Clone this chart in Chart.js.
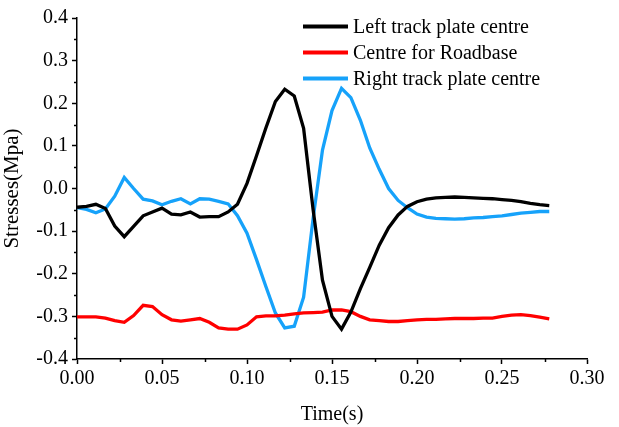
<!DOCTYPE html>
<html>
<head>
<meta charset="utf-8">
<script src="https://cdn.jsdelivr.net/npm/chart.js@4.4.0/dist/chart.umd.min.js"></script>
<style>
html,body{margin:0;padding:0;background:#fff;}
#wrap{width:619px;height:427px;position:relative;}
</style>
</head>
<body>
<div id="wrap"><canvas id="c" width="619" height="427"></canvas></div>
<script>
const times = [0, 0.0056, 0.0111, 0.0167, 0.0222, 0.0278, 0.0333, 0.0389, 0.0444, 0.05,
  0.0556, 0.0611, 0.0667, 0.0722, 0.0778, 0.0833, 0.0889, 0.0944, 0.1, 0.1056,
  0.1111, 0.1167, 0.1222, 0.1278, 0.1333, 0.1389, 0.1444, 0.15, 0.1556, 0.1611,
  0.1667, 0.1722, 0.1778, 0.1833, 0.1889, 0.1944, 0.2, 0.2056, 0.2111, 0.2167,
  0.2222, 0.2278, 0.2333, 0.2389, 0.2444, 0.25, 0.2556, 0.2611, 0.2667, 0.2722, 0.2778];

const leftTrack = [-0.044, -0.042, -0.037, -0.047, -0.088, -0.113, -0.089, -0.064, -0.055, -0.046,
  -0.060, -0.062, -0.055, -0.067, -0.066, -0.066, -0.055, -0.037, 0.012, 0.077,
  0.142, 0.204, 0.233, 0.217, 0.141, -0.050, -0.215, -0.300, -0.330, -0.290,
  -0.235, -0.185, -0.133, -0.092, -0.062, -0.042, -0.031, -0.025, -0.022, -0.021,
  -0.020, -0.021, -0.022, -0.023, -0.024, -0.026, -0.028, -0.031, -0.035, -0.038, -0.040];

const roadbase = [-0.301, -0.301, -0.301, -0.304, -0.310, -0.314, -0.298, -0.274, -0.277, -0.296,
  -0.308, -0.311, -0.308, -0.305, -0.314, -0.327, -0.330, -0.330, -0.320, -0.301,
  -0.299, -0.299, -0.297, -0.294, -0.292, -0.291, -0.290, -0.285, -0.285, -0.289,
  -0.300, -0.308, -0.310, -0.312, -0.312, -0.310, -0.308, -0.307, -0.307, -0.306,
  -0.305, -0.305, -0.305, -0.304, -0.304, -0.300, -0.297, -0.296, -0.298, -0.302, -0.306];

const rightTrack = [-0.045, -0.049, -0.057, -0.048, -0.018, 0.026, 0.000, -0.025, -0.029, -0.038,
  -0.030, -0.024, -0.036, -0.024, -0.025, -0.030, -0.036, -0.064, -0.105, -0.167,
  -0.230, -0.292, -0.327, -0.323, -0.255, -0.070, 0.090, 0.183, 0.235, 0.213,
  0.160, 0.095, 0.045, 0.000, -0.028, -0.045, -0.060, -0.067, -0.070, -0.071,
  -0.072, -0.071, -0.069, -0.068, -0.066, -0.064, -0.061, -0.058, -0.056, -0.054, -0.054];

const seriesNames = ['Left track plate centre', 'Centre for Roadbase', 'Right track plate centre'];
const xTitle = 'Time(s)';
const yTitle = 'Stresses(Mpa)';

const FONT = "'Liberation Serif', 'Times New Roman', serif";
const toXY = arr => arr.map((v, i) => ({x: times[i], y: v}));

const minorTicks = {
  id: 'minorTicks',
  afterDraw(chart) {
    const ctx = chart.ctx, xs = chart.scales.x, ys = chart.scales.y;
    const area = chart.chartArea;
    ctx.save();
    ctx.strokeStyle = '#000';
    ctx.lineWidth = 1.5;
    for (let v = 0.025; v < 0.3; v += 0.05) {
      const px = Math.round(xs.getPixelForValue(v)) + 0.5;
      ctx.beginPath(); ctx.moveTo(px, area.bottom); ctx.lineTo(px, area.bottom + 3); ctx.stroke();
    }
    for (let v = -0.35; v < 0.4; v += 0.1) {
      const py = Math.round(ys.getPixelForValue(v)) + 0.5;
      ctx.beginPath(); ctx.moveTo(area.left, py); ctx.lineTo(area.left - 3, py); ctx.stroke();
    }
    ctx.restore();
  }
};

const customLegend = {
  id: 'customLegend',
  afterDraw(chart) {
    const ctx = chart.ctx;
    ctx.save();
    ctx.font = "20px " + FONT;
    ctx.textBaseline = 'middle';
    ctx.fillStyle = '#000';
    chart.data.datasets.forEach((ds, i) => {
      const y = 26.5 + i * 26;
      ctx.strokeStyle = ds.borderColor;
      ctx.lineWidth = 4;
      ctx.beginPath(); ctx.moveTo(303, y); ctx.lineTo(348, y); ctx.stroke();
      ctx.fillText(ds.label, 353, y + 1);
    });
    ctx.restore();
  }
};

new Chart(document.getElementById('c'), {
  type: 'line',
  data: {
    datasets: [
      {label: seriesNames[0], data: toXY(leftTrack), borderColor: '#000000', borderWidth: 3.3, pointRadius: 0, tension: 0, fill: false},
      {label: seriesNames[1], data: toXY(roadbase), borderColor: '#ff0000', borderWidth: 3.3, pointRadius: 0, tension: 0, fill: false},
      {label: seriesNames[2], data: toXY(rightTrack), borderColor: '#16a2fa', borderWidth: 3.3, pointRadius: 0, tension: 0, fill: false}
    ]
  },
  options: {
    responsive: false,
    animation: false,
    layout: {padding: {left: 0, right: 32, top: 18, bottom: 0}},
    plugins: {legend: {display: false}, tooltip: {enabled: false}},
    scales: {
      x: {
        type: 'linear', min: 0, max: 0.3,
        border: {color: '#000', width: 1.5},
        grid: {drawOnChartArea: false, drawTicks: true, tickLength: 5, tickColor: '#000', tickWidth: 1.5},
        ticks: {stepSize: 0.05, color: '#000', font: {family: FONT, size: 20}, padding: 3, maxRotation: 0,
          callback: v => Number(v).toFixed(2)},
        title: {display: true, text: xTitle, color: '#000', font: {family: FONT, size: 20}, padding: {top: 7, bottom: 0}},
        afterFit: s => { s.height = 427 - 359; }
      },
      y: {
        type: 'linear', min: -0.4, max: 0.4,
        border: {color: '#000', width: 1.5},
        grid: {drawOnChartArea: false, drawTicks: true, tickLength: 5, tickColor: '#000', tickWidth: 1.5},
        ticks: {stepSize: 0.1, color: '#000', font: {family: FONT, size: 20}, padding: 4,
          callback: v => Number(v).toFixed(1)},
        title: {display: true, text: yTitle, color: '#000', font: {family: FONT, size: 21}, padding: {top: 0, bottom: 4}},
        afterFit: s => { s.width = 77; }
      }
    }
  },
  plugins: [minorTicks, customLegend]
});
</script>
</body>
</html>
